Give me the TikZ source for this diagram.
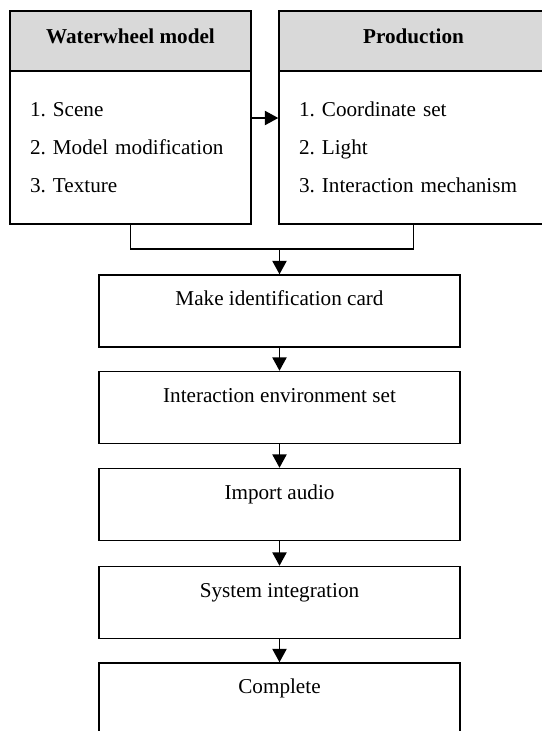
\documentclass[tikz,border=0pt]{standalone}
\usepackage{fontspec}
\setmainfont{Liberation Serif}
\usepackage{xcolor}
\usepackage{tikz}
\usetikzlibrary{arrows.meta}
\frenchspacing

\definecolor{headgray}{RGB}{217,217,217}

\tikzset{
  headbox/.style={draw, line width=0.9pt, fill=headgray, minimum height=36pt,
    text height=9pt, text depth=6pt, font=\fontsize{12.7}{15}\selectfont\bfseries},
  listbox/.style={draw, line width=0.9pt, minimum height=91.8pt, inner xsep=12pt,
    align=left, font=\fontsize{12.7}{22.8}\selectfont},
  stagebox/.style={draw, line width=0.9pt, minimum width=216.6pt, minimum height=43.2pt,
    inner ysep=0pt, text height=18.4pt, text depth=24.8pt,
    font=\fontsize{12.7}{15}\selectfont},
  flow/.style={line width=0.9pt, -{Triangle[length=8pt,width=8.5pt]}}
}

\begin{document}
\begin{tikzpicture}[x=0.6pt, y=-0.6pt]
    \useasboundingbox (0,0) rectangle (542,731);

    % the two parts made first
    \node[headbox, minimum width=144.6pt] (wwhead) at (130.5,41) {Waterwheel model};
    \node[listbox, minimum width=144.6pt, text width=120.6pt] (wwbody) at (130.5,147.5)
      {1. Scene\\2. Model modification\\3. Texture};
    \node[headbox, minimum width=161.4pt] (prhead) at (413.5,41) {Production};
    \node[listbox, minimum width=161.4pt, text width=137.4pt] (prbody) at (413.5,147.5)
      {1. Coordinate set\\2. Light\\3. Interaction mechanism};
    \draw[flow] ([yshift=17.7pt]wwbody.east) -- ([yshift=17.7pt]prbody.west);

    % the steps below
    \node[stagebox] (card) at (279.5,311) {Make identification card};
    \node[stagebox] (env) at (279.5,407.5) {Interaction environment set};
    \node[stagebox] (audio) at (279.5,504.5) {Import audio};
    \node[stagebox] (integ) at (279.5,602.5) {System integration};
    \node[stagebox] (done) at (279.5,699) {Complete};

    \coordinate (join) at (279.5,249);
    \draw[line width=0.9pt] (wwbody.south) |- (join);
    \draw[line width=0.9pt] (prbody.south) |- (join);
    \draw[flow] (join) -- (card.north);
    \draw[flow] (card) -- (env);
    \draw[flow] (env) -- (audio);
    \draw[flow] (audio) -- (integ);
    \draw[flow] (integ) -- (done);
  \end{tikzpicture}
\end{document}
